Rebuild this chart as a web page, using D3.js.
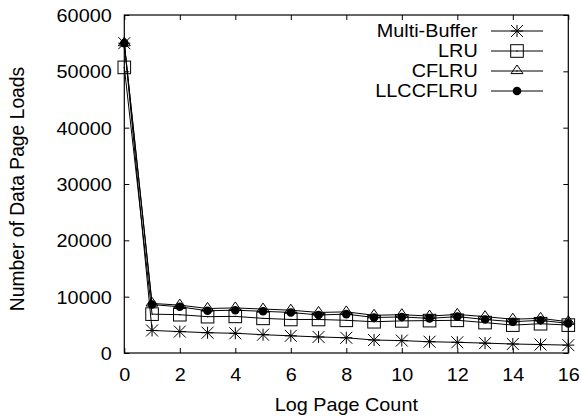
<!DOCTYPE html>
<html>
<head>
<meta charset="utf-8">
<script src="https://cdn.jsdelivr.net/npm/d3@7"></script>
<style>
  html, body { margin: 0; padding: 0; background: #fff; }
  svg { display: block; }
  text { font-family: "Liberation Sans", Arial, Helvetica, sans-serif; fill: #000; }
</style>
</head>
<body>
<script>
// ---- data ----
const logPageCount = [0,1,2,3,4,5,6,7,8,9,10,11,12,13,14,15,16];
const multiBuffer = [55000,4000,3800,3600,3500,3250,3050,2850,2700,2300,2200,2000,1900,1750,1600,1500,1400];
const lru         = [50700,6900,6800,6450,6500,6150,5950,5950,5800,5550,5700,5750,5800,5400,4950,5200,4950];
const cflru       = [55000,8800,8500,7900,8000,7800,7600,7200,7300,6700,6800,6550,6850,6450,6000,6150,5550];
const llccflru    = [55000,8600,8200,7500,7600,7400,7200,6750,6900,6300,6400,6150,6450,5950,5550,5800,5250];
const seriesNames = ["Multi-Buffer","LRU","CFLRU","LLCCFLRU"];
const xTicks = [0,2,4,6,8,10,12,14,16];
const yTicks = [0,10000,20000,30000,40000,50000,60000];
const xTitle = "Log Page Count";
const yTitle = "Number of Data Page Loads";

// ---- layout ----
const W = 581, H = 417;
const L = 124.3, R = 568.3, T = 15, B = 353;
const FS = 17.7, SX = 1.12;

const svg = d3.select("body").append("svg").attr("width", W).attr("height", H);

const x = d3.scaleLinear().domain([0,16]).range([L,R]);
const y = d3.scaleLinear().domain([0,60000]).range([B,T]);

function styleAxis(g){
  g.select(".domain").remove();
  g.selectAll(".tick line").attr("stroke","#000").attr("stroke-width",1);
}

// bottom axis
svg.append("g").attr("transform",`translate(0,${B})`)
  .call(d3.axisBottom(x).tickValues(xTicks).tickSizeInner(-5).tickSizeOuter(0).tickFormat(d3.format("d")))
  .call(styleAxis)
  .call(g => g.selectAll(".tick text")
      .attr("y", 0).attr("dy", 0)
      .attr("transform", `translate(0,27.7) scale(${SX},1)`)
      .attr("font-size", FS).attr("font-family", null).attr("fill","#000"));

// left axis
svg.append("g").attr("transform",`translate(${L},0)`)
  .call(d3.axisLeft(y).tickValues(yTicks).tickSizeInner(-5).tickSizeOuter(0).tickFormat(d3.format("d")))
  .call(styleAxis)
  .call(g => g.selectAll(".tick text")
      .attr("x", 0).attr("dy", 0)
      .attr("transform", `translate(-12.6,6.6) scale(${SX},1)`)
      .attr("font-size", FS).attr("font-family", null).attr("fill","#000"));

// top axis (ticks only)
svg.append("g").attr("transform",`translate(0,${T})`)
  .call(d3.axisTop(x).tickValues(xTicks).tickSizeInner(-5).tickSizeOuter(0).tickFormat(""))
  .call(styleAxis);

// right axis (ticks only)
svg.append("g").attr("transform",`translate(${R},0)`)
  .call(d3.axisRight(y).tickValues(yTicks).tickSizeInner(-5).tickSizeOuter(0).tickFormat(""))
  .call(styleAxis);

// border
svg.append("rect").attr("x",L).attr("y",T).attr("width",R-L).attr("height",B-T)
  .attr("fill","none").attr("stroke","#000").attr("stroke-width",1.2);

// axis titles
svg.append("text").attr("transform",`translate(${(L+R)/2},411) scale(${SX},1)`)
  .attr("text-anchor","middle").attr("font-size",FS).text(xTitle);
svg.append("text").attr("transform",`translate(23.5,189) rotate(-90)`)
  .attr("text-anchor","middle").attr("font-size",19.3).text(yTitle);

// ---- markers ----
function drawMarker(g, type, cx, cy){
  const m = g.append("g").attr("transform",`translate(${cx},${cy})`);
  const st = s => s.attr("stroke","#000").attr("stroke-width",1).attr("fill","none");
  if (type === 0){ // asterisk
    const s = 6;
    st(m.append("path").attr("d",`M${-s},0H${s}M0,${-s}V${s}M${-s},${-s}L${s},${s}M${-s},${s}L${s},${-s}`));
  } else if (type === 1){ // open square
    const s = 6.3;
    st(m.append("rect").attr("x",-s).attr("y",-s).attr("width",2*s).attr("height",2*s));
    m.append("circle").attr("r",0.7).attr("fill","#000");
  } else if (type === 2){ // open triangle
    st(m.append("path").attr("d",`M0,-6L6,2.6L-6,2.6Z`));
    m.append("circle").attr("r",0.7).attr("fill","#000");
  } else { // filled dot
    m.append("circle").attr("r",4.3).attr("fill","#000");
  }
}

const allSeries = [multiBuffer, lru, cflru, llccflru];
const line = d3.line().x((d,i)=>x(logPageCount[i])).y(d=>y(d));

allSeries.forEach((vals, k) => {
  const g = svg.append("g");
  g.append("path").datum(vals).attr("d", line)
    .attr("fill","none").attr("stroke","#000").attr("stroke-width",1);
  vals.forEach((v,i) => drawMarker(g, k, x(logPageCount[i]), y(v)));
});

// ---- legend ----
const legRows = [31, 51, 71, 91];
seriesNames.forEach((name, k) => {
  const g = svg.append("g");
  const ry = legRows[k];
  g.append("text").attr("transform",`translate(477.7,${ry+6}) scale(${SX},1)`)
    .attr("text-anchor","end").attr("font-size",FS).text(name);
  g.append("line").attr("x1",491).attr("x2",543).attr("y1",ry).attr("y2",ry)
    .attr("stroke","#000").attr("stroke-width",1);
  drawMarker(g, k, 517, ry);
});
</script>
</body>
</html>
